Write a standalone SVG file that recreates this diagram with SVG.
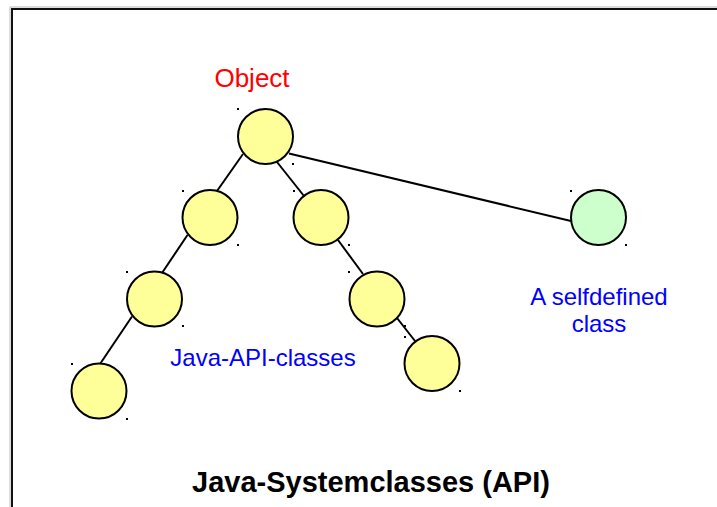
<svg xmlns="http://www.w3.org/2000/svg" width="717" height="507" viewBox="0 0 717 507">
<style>
.n{stroke:#000;stroke-width:2}
.y{fill:#ffff99}
.g{fill:#ccffcc}
.c line{stroke:#000;stroke-width:2}
.h{fill:#000}
text{font-family:"Liberation Sans",Arial,sans-serif}
.lbl{fill:#0000ff;font-size:24px;text-anchor:middle}
</style>
<rect width="717" height="507" fill="#fff"/>
<rect x="10" y="7" width="730" height="530" fill="none" stroke="#bbb" stroke-width="1"/>
<rect x="12" y="9" width="720" height="520" fill="none" stroke="#111" stroke-width="2"/>
<g class="c" id="connectors">
<line x1="243" y1="154" x2="217" y2="191"/>
<line x1="277" y1="162" x2="304" y2="196"/>
<line x1="289" y1="153.5" x2="571" y2="221"/>
<line x1="187.5" y1="235" x2="162" y2="273"/>
<line x1="132" y1="316.5" x2="100" y2="364"/>
<line x1="338" y1="240" x2="363" y2="274"/>
<line x1="397" y1="318" x2="415" y2="341"/>
</g>
<text x="252" y="87" fill="#ff0000" font-size="26" text-anchor="middle">Object</text>
<g id="root"><circle class="n y" cx="265.5" cy="136.5" r="27.5"/><rect class="h" x="237" y="108" width="2" height="2"/><rect class="h" x="292" y="163" width="2" height="2"/></g>
<g id="l1"><circle class="n y" cx="210" cy="217.5" r="27.5"/><rect class="h" x="182" y="190" width="2" height="2"/><rect class="h" x="237" y="244" width="2" height="2"/></g>
<g id="r1"><circle class="n y" cx="321" cy="217.5" r="27.5"/><rect class="h" x="293" y="190" width="2" height="2"/><rect class="h" x="348" y="244" width="2" height="2"/></g>
<g id="self"><circle class="n g" cx="598.5" cy="217.5" r="27.5"/><rect class="h" x="570" y="190" width="2" height="2"/><rect class="h" x="625" y="244" width="2" height="2"/></g>
<g id="l2"><circle class="n y" cx="154.5" cy="299" r="27.5"/><rect class="h" x="126" y="271" width="2" height="2"/><rect class="h" x="182" y="325" width="2" height="2"/></g>
<g id="r2"><circle class="n y" cx="377" cy="299" r="27.5"/><rect class="h" x="348" y="271" width="2" height="2"/><rect class="h" x="404" y="325" width="2" height="2"/></g>
<g id="l3"><circle class="n y" cx="99" cy="391" r="27.5"/><rect class="h" x="71" y="363" width="2" height="2"/><rect class="h" x="126" y="418" width="2" height="2"/></g>
<g id="r3"><circle class="n y" cx="432" cy="363.5" r="27.5"/><rect class="h" x="404" y="336" width="2" height="2"/><rect class="h" x="459" y="390" width="2" height="2"/></g>
<text class="lbl" x="263" y="366">Java-API-classes</text>
<text class="lbl" x="599" y="305">A selfdefined</text>
<text class="lbl" x="599" y="332">class</text>
<text x="371" y="492" font-size="29" font-weight="bold" text-anchor="middle" fill="#000">Java-Systemclasses (API)</text>
</svg>
